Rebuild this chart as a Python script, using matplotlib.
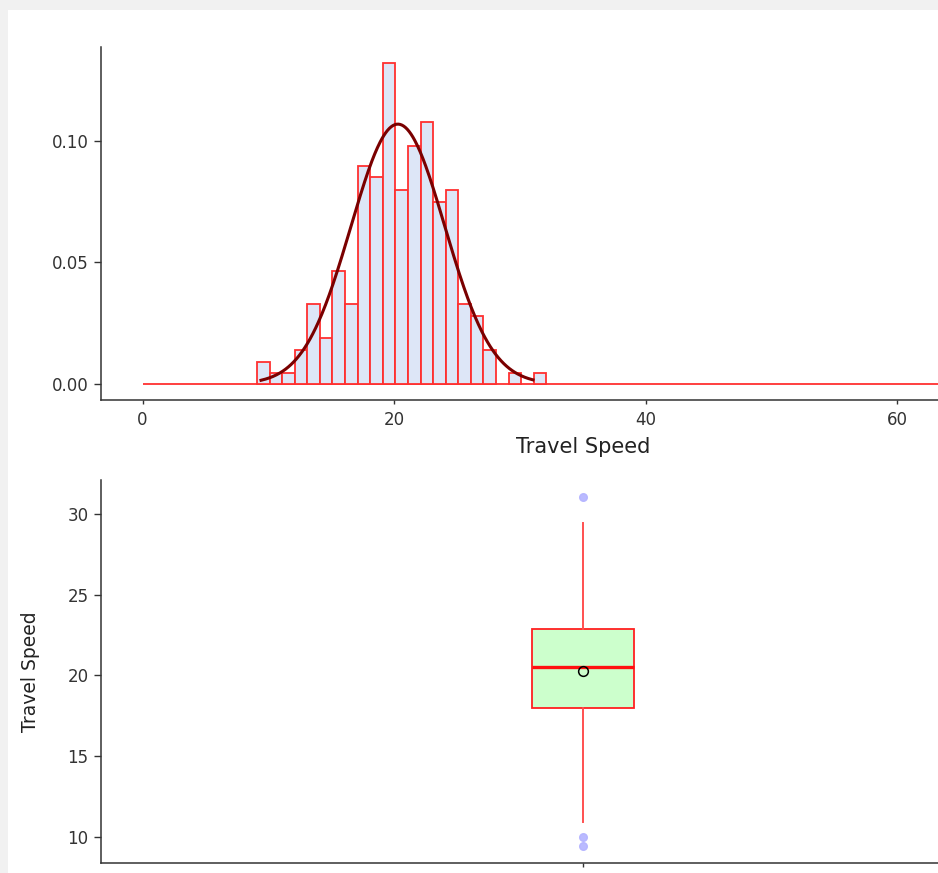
import matplotlib
matplotlib.use('Agg')
import matplotlib.pyplot as plt
import numpy as np
from matplotlib.patches import Rectangle

# histogram of travel speed (density, binwidth 1)
bin_start = 9.1
bin_width = 1.0
densities = [0.0092, 0.0044, 0.0044, 0.014, 0.033, 0.019, 0.0466, 0.033,
             0.0896, 0.085, 0.132, 0.080, 0.098, 0.108, 0.075, 0.080,
             0.033, 0.028, 0.014, 0.0, 0.0044, 0.0, 0.0044]
hist_range = [0.0, 73.4]

# fitted normal curve
speed_mean = 20.3
speed_sd = 3.73
speed_min = 9.42
speed_max = 31.04

# boxplot summary
box_q1 = 17.95
box_median = 20.5
box_q3 = 22.85
whisker_lo = 10.92
whisker_hi = 29.46
outliers = [31.04, 9.96, 9.42]
box_mean = 20.27

x_ticks = [0, 20, 40, 60]
hist_y_ticks = [0.00, 0.05, 0.10]
box_y_ticks = [10, 15, 20, 25, 30]

W, H = 938, 873
fig = plt.figure(figsize=(W / 100, H / 100), dpi=100, facecolor='#f1f1f1')
fig.patches.append(Rectangle((8 / W, 0), 1, 1 - 10 / H, transform=fig.transFigure,
                             facecolor='white', edgecolor='none', zorder=-10))

tick_col = '#333333'


def style_axes(ax):
    ax.set_facecolor('none')
    for s in ['top', 'right']:
        ax.spines[s].set_visible(False)
    for s in ['left', 'bottom']:
        ax.spines[s].set_color('#333333')
        ax.spines[s].set_linewidth(1.1)
    ax.tick_params(axis='y', length=5, width=1.0, color='#333333',
                   labelsize=12, labelcolor=tick_col, pad=4)
    ax.tick_params(axis='x', length=3, width=1.0, color='#333333',
                   labelsize=12, labelcolor=tick_col, pad=5)


# ---- top: histogram + normal curve
ax1 = fig.add_axes([101 / W, 1 - 400 / H, 964 / W, 353 / H])
style_axes(ax1)
lefts = bin_start + bin_width * np.arange(len(densities))
dens = np.array(densities)
ax1.hlines(0, hist_range[0], hist_range[1], color='#ff3030', lw=1.3, zorder=2)
ax1.bar(lefts[dens > 0], dens[dens > 0], width=bin_width, align='edge',
        color='#dde6f7', edgecolor='#ff3030', linewidth=1.3, zorder=3)
xs = np.linspace(speed_min, speed_max, 300)
pdf = np.exp(-0.5 * ((xs - speed_mean) / speed_sd) ** 2) / (speed_sd * np.sqrt(2 * np.pi))
ax1.plot(xs, pdf, color='#7a0000', lw=2.2, zorder=4)
ax1.set_xlim(-3.30, 73.33)
ax1.set_ylim(-0.0066, 0.1387)
ax1.set_xticks(x_ticks)
ax1.set_yticks(hist_y_ticks)
ax1.set_yticklabels(['%.2f' % v for v in hist_y_ticks])
ax1.set_xlabel('Travel Speed', fontsize=15, color='#222222', labelpad=6)

# ---- bottom: boxplot
ax2 = fig.add_axes([101 / W, 1 - 863 / H, 964 / W, 383 / H])
style_axes(ax2)
stats = [dict(med=box_median, q1=box_q1, q3=box_q3, whislo=whisker_lo,
              whishi=whisker_hi, fliers=outliers)]
ax2.bxp(stats, positions=[1], widths=0.1265, patch_artist=True, showcaps=False,
        boxprops=dict(facecolor='#ccffcc', edgecolor='#ff2020', linewidth=1.3),
        medianprops=dict(color='#ff1010', linewidth=2.4),
        whiskerprops=dict(color='#ff5050', linewidth=1.4),
        flierprops=dict(marker='o', markersize=5.5, markerfacecolor='#b3b3ff',
                        markeredgecolor='#b3b3ff', alpha=0.9))
ax2.plot([1], [box_mean], marker='o', markersize=7, markerfacecolor='none',
         markeredgecolor='black', markeredgewidth=1.1, zorder=5)
ax2.set_xlim(0.4, 1.6)
ax2.set_ylim(8.36, 32.11)
ax2.set_yticks(box_y_ticks)
ax2.set_xticks([1])
ax2.set_xticklabels([''])
ax2.set_ylabel('Travel Speed', fontsize=13.5, color='#222222', labelpad=20)

fig.savefig('out.png', dpi=100, facecolor=fig.get_facecolor())
plt.close(fig)
